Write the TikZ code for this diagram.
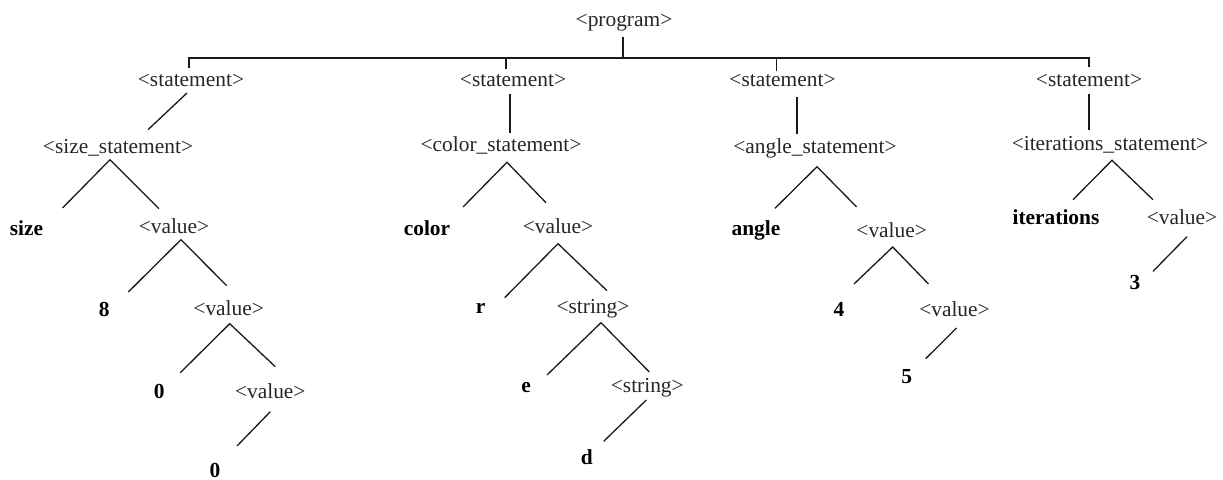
\documentclass[tikz,border=0pt]{standalone}
\usepackage{fontspec}
\setmainfont{Liberation Serif}
\usepackage{tikz}

\begin{document}
\begin{tikzpicture}[
      x=0.5pt, y=-0.5pt,
      font=\fontsize{10.7}{12.8}\selectfont,
      nt/.style={inner sep=0pt, text height=1.9ex, text depth=0.25ex, text=black!85},
      kw/.style={nt, text=black, font=\fontsize{10.7}{12.8}\selectfont\bfseries},
      br/.style={line width=0.65pt, black!90},
    ]
    \useasboundingbox (0,0) rectangle (1223,480);

    % root and the bar below it
    \node[nt] (prog) at (624,19) {<program>};
    \coordinate (bar) at (623,58);

    % statements
    \node[nt] (s1) at (191,79)   {<statement>};
    \node[nt] (s2) at (513,79)   {<statement>};
    \node[nt] (s3) at (782.5,79) {<statement>};
    \node[nt] (s4) at (1089,79)  {<statement>};

    % kinds of statement
    \node[nt] (ss)  at (118,145.7)  {<size\_statement>};
    \node[nt] (cs)  at (501,144.3)  {<color\_statement>};
    \node[nt] (as)  at (815,145.7)  {<angle\_statement>};
    \node[nt] (its) at (1110,143.3) {<iterations\_statement>};

    % size branch
    \node[kw] (ksize) at (26.5,228)   {size};
    \node[nt] (v1)    at (174,225.7)  {<value>};
    \node[kw] (n8)    at (104.3,309)  {8};
    \node[nt] (v2)    at (228.7,307.7){<value>};
    \node[kw] (n0a)   at (159.3,390.7){0};
    \node[nt] (v3)    at (270.3,390.7){<value>};
    \node[kw] (n0b)   at (215,470)    {0};

    % color branch
    \node[kw] (kcolor) at (427,228)     {color};
    \node[nt] (c1)     at (558,225.7)   {<value>};
    \node[kw] (lr)     at (480.7,305.7) {r};
    \node[nt] (st1)    at (593,305.7)   {<string>};
    \node[kw] (le)     at (526,385)     {e};
    \node[nt] (st2)    at (647.3,385)   {<string>};
    \node[kw] (ld)     at (586.7,457.3) {d};

    % angle branch
    \node[kw] (kangle) at (756,228.3)   {angle};
    \node[nt] (a1)     at (891.7,230)   {<value>};
    \node[kw] (n4)     at (839,309)     {4};
    \node[nt] (a2)     at (954.5,309)   {<value>};
    \node[kw] (n5)     at (906.7,375.7) {5};

    % iterations branch
    \node[kw] (kiter) at (1056,216.7) {iterations};
    \node[nt] (i1)    at (1182,216.7) {<value>};
    \node[kw] (n3)    at (1135,282.3) {3};

    % bar
    \draw[br] ([shift={(-1,18)}]prog.center) -- (bar);
    \draw[br] ([shift={(-2,-11)}]s1.center) |- (bar) -| ([shift={(0,-12)}]s4.center);
    \draw[br] ([shift={(-7,-10)}]s2.center) |- (bar);
    \draw[br] ([shift={(-6,-8)}]s3.center) |- (bar);

    % statement -> kind
    \draw[br] ([shift={(-4,14)}]s1.center) -- ([shift={(30,-16)}]ss.center);
    \draw[br] ([shift={(-3,15)}]s2.center) -- ([shift={(9,-11)}]cs.center);
    \draw[br] ([shift={(14.5,18)}]s3.center) -- ([shift={(-18,-12)}]as.center);
    \draw[br] ([shift={(0,15)}]s4.center) -- ([shift={(-21,-13)}]its.center);

    % size tree
    \draw[br] ([shift={(36,-20)}]ksize.center) -- ([shift={(-8,14)}]ss.center)
              -- ([shift={(-15,-17)}]v1.center);
    \draw[br] ([shift={(24,-17)}]n8.center) -- ([shift={(7,14)}]v1.center)
              -- ([shift={(-2,-22)}]v2.center);
    \draw[br] ([shift={(21,-18)}]n0a.center) -- ([shift={(1,16)}]v2.center)
              -- ([shift={(5,-24)}]v3.center);
    \draw[br] ([shift={(0,21)}]v3.center) -- ([shift={(22,-24)}]n0b.center);

    % color tree
    \draw[br] ([shift={(36,-21)}]kcolor.center) -- ([shift={(6,18)}]cs.center)
              -- ([shift={(-12,-23)}]c1.center);
    \draw[br] ([shift={(24,-8)}]lr.center) -- ([shift={(0,18)}]c1.center)
              -- ([shift={(14,-15)}]st1.center);
    \draw[br] ([shift={(21,-10)}]le.center) -- ([shift={(8,17)}]st1.center)
              -- ([shift={(2,-13)}]st2.center);
    \draw[br] ([shift={(-1,15)}]st2.center) -- ([shift={(17,-16)}]ld.center);

    % angle tree
    \draw[br] ([shift={(19,-20)}]kangle.center) -- ([shift={(2,21)}]as.center)
              -- ([shift={(-35,-23)}]a1.center);
    \draw[br] ([shift={(15,-25)}]n4.center) -- ([shift={(1,17)}]a1.center)
              -- ([shift={(-26,-25)}]a2.center);
    \draw[br] ([shift={(2,19)}]a2.center) -- ([shift={(19,-17)}]n5.center);

    % iterations tree
    \draw[br] ([shift={(17,-17)}]kiter.center) -- ([shift={(2,17)}]its.center)
              -- ([shift={(-29,-17)}]i1.center);
    \draw[br] ([shift={(5,20)}]i1.center) -- ([shift={(18,-11)}]n3.center);
  \end{tikzpicture}
\end{document}
